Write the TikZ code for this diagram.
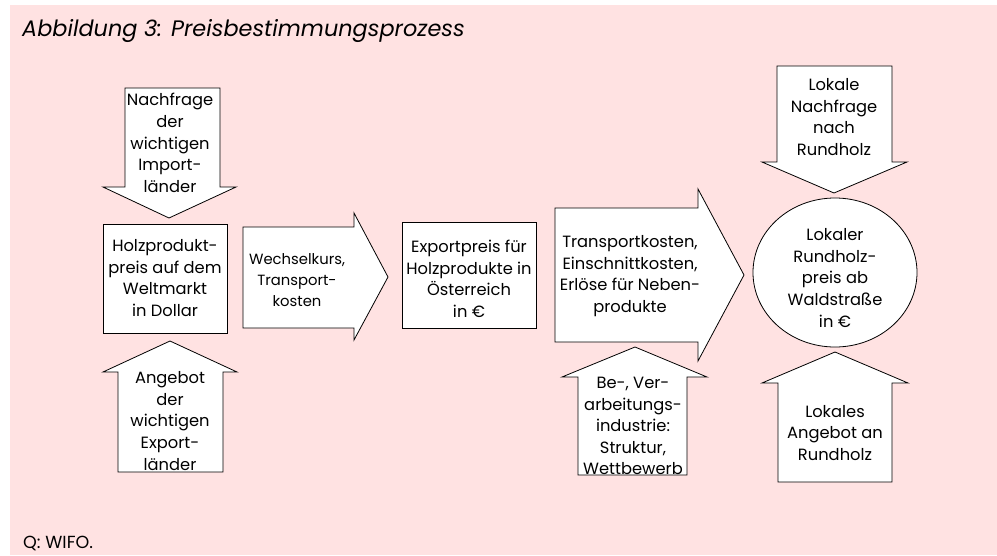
\documentclass[tikz,border=0pt]{standalone}
\usepackage{fontspec}
\setmainfont{Poppins}
\definecolor{bgpink}{RGB}{255,226,226}
\begin{document}
\begin{tikzpicture}[x=1pt,y=-1pt,
  blk/.style={draw=black, fill=white, line width=0.8pt, line join=miter},
  lbl/.style={align=center, font=\fontsize{16.3}{21.6}\selectfont, inner sep=0pt}]
\fill[white] (0,0) rectangle (997,555);
\fill[bgpink] (10,5) rectangle (997,555);
\useasboundingbox (0,0) rectangle (997,555);
% title and source
\node[anchor=base west, inner sep=0pt, font=\fontsize{22.4}{26}\selectfont\itshape] (title) at (22,36) {Abbildung 3: Preisbestimmungsprozess};
\node[anchor=base west, inner sep=0pt, font=\fontsize{17.5}{20}\selectfont] (src) at (23,548) {Q: WIFO.};
% left column
\draw[blk] (125,88) -- (220,88) -- (220,187) -- (236,187) -- (169,218) -- (103,187) -- (125,187) -- cycle;
\node[lbl] (nachfrage) at (170,143) {Nachfrage\\der\\wichtigen\\Import-\\länder};
\draw[blk] (103,224) rectangle (227,333);
\node[lbl] (holz) at (165,278) {Holzprodukt-\\preis auf dem\\Weltmarkt\\in Dollar};
\draw[blk] (170,341) -- (237,372) -- (223,372) -- (223,472) -- (118,472) -- (118,372) -- (103,372) -- cycle;
\node[lbl] (angebot) at (170,421) {Angebot\\der\\wichtigen\\Export-\\länder};
% Wechselkurs arrow
\draw[blk] (243,227) -- (354,227) -- (354,213) -- (388,277) -- (354,340) -- (354,328) -- (243,328) -- cycle;
\node[lbl, font=\fontsize{14.8}{21}\selectfont] (wechsel) at (297,280) {Wechselkurs,\\Transport-\\kosten};
% Exportpreis box
\draw[blk] (402,222) rectangle (536,328);
\node[lbl] (export) at (469,279) {Exportpreis für\\Holzprodukte in\\Österreich\\in €};
% Transport arrow
\draw[blk] (555,208) -- (698,208) -- (698,189) -- (744,275) -- (698,361) -- (698,342) -- (555,342) -- cycle;
\node[lbl] (transport) at (630,276) {Transportkosten,\\Einschnittkosten,\\Erlöse für Neben-\\produkte};
% Be-, Ver- arrow
\draw[blk] (635,347) -- (707,377) -- (687,377) -- (687,475) -- (578,475) -- (578,377) -- (562,377) -- cycle;
\node[lbl] (industrie) at (633,426) {Be-, Ver-\\arbeitungs-\\industrie:\\Struktur,\\Wettbewerb};
% right column
\draw[blk] (777,66) -- (892,66) -- (892,162) -- (907,162) -- (834,193) -- (762,162) -- (777,162) -- cycle;
\node[lbl] (lnachfrage) at (834,117) {Lokale\\Nachfrage\\nach\\Rundholz};
\draw[blk] (835,272.5) ellipse [x radius=82, y radius=74.5];
\node[lbl] (preis) at (835,278) {Lokaler\\Rundholz-\\preis ab\\Waldstraße\\in €};
\draw[blk] (835,352) -- (908,383) -- (892,383) -- (892,482) -- (778,482) -- (778,383) -- (762,383) -- cycle;
\node[lbl] (langebot) at (835,433) {Lokales\\Angebot an\\Rundholz};
\end{tikzpicture}
\end{document}
